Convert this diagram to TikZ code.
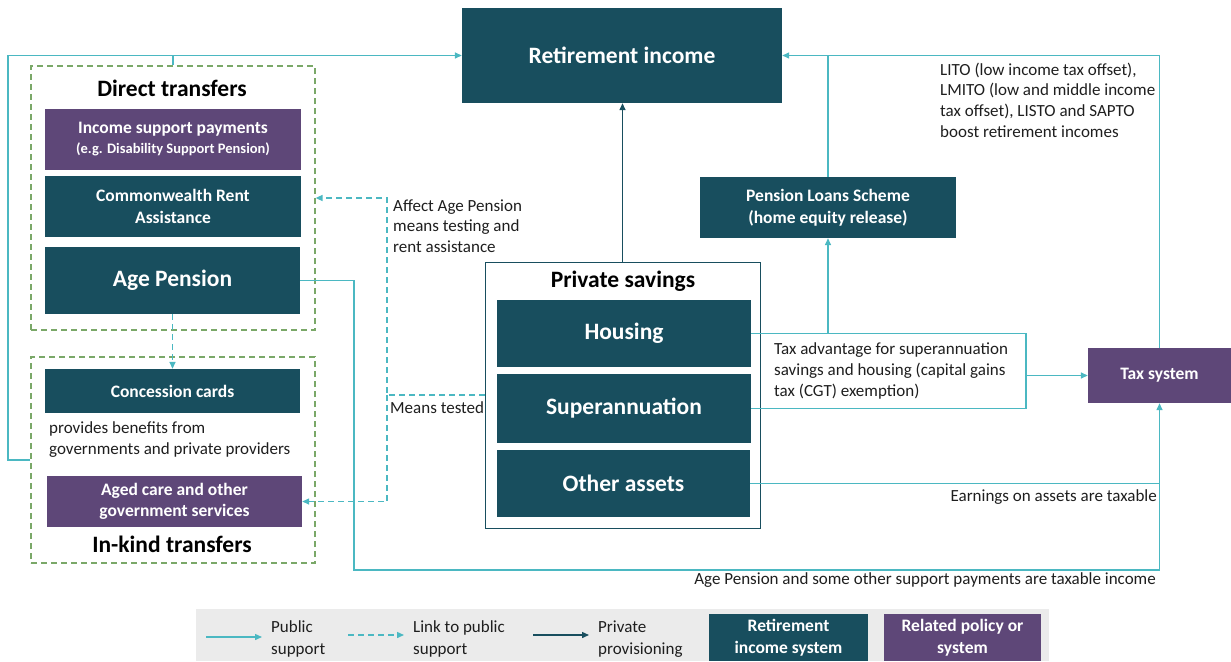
\documentclass[tikz,border=0pt]{standalone}
\usepackage{fontspec}
\setmainfont{Carlito}
\usetikzlibrary{arrows.meta}
\definecolor{rteal}{RGB}{24,78,94}
\definecolor{rpurple}{RGB}{94,71,120}
\definecolor{rcyan}{RGB}{75,184,194}
\definecolor{rgreen}{RGB}{122,168,104}
\definecolor{rgray}{RGB}{235,235,235}
\definecolor{rtext}{RGB}{30,30,30}
\newcommand{\rbigf}{\fontsize{23.5}{27}\selectfont\bfseries}
\newcommand{\rmedf}{\fontsize{17.5}{21.5}\selectfont\bfseries}
\newcommand{\rnotef}{\fontsize{17}{20.6}\selectfont}
\newcommand{\rlegf}{\fontsize{17}{22}\selectfont}
\tikzset{
  tbox/.style={fill=rteal, text=white, align=center, inner sep=0pt},
  pbox/.style={fill=rpurple, text=white, align=center, inner sep=0pt},
  grpbox/.style={draw=rgreen, line width=1.2pt, dash pattern=on 6pt off 4pt, inner sep=0pt},
  lbl/.style={text=rtext, align=left, inner sep=0pt, font=\rnotef},
  leglbl/.style={text=rtext, align=left, inner sep=0pt, font=\rlegf},
  tip/.style={-{Triangle[length=7pt,width=6pt]}},
  pub/.style={draw=rcyan, line width=1.4pt},
  link/.style={draw=rcyan, line width=1.4pt, dash pattern=on 6pt off 4pt},
  priv/.style={draw=rteal, line width=1.4pt},
}
\begin{document}
\begin{tikzpicture}[x=1pt,y=-1pt]
\useasboundingbox (0,0) rectangle (1231,661);

% group boxes
\node[grpbox, minimum width=284pt, minimum height=264pt] (dt) at (173,198) {};
\node[grpbox, minimum width=284pt, minimum height=206pt] (ik) at (173,460) {};
\node[draw=rteal, line width=1pt, fill=white, minimum width=275pt, minimum height=266pt, inner sep=0pt] (ps) at (622.5,395) {};

% main boxes
\node[tbox, minimum width=320pt, minimum height=95pt, font=\rbigf] (ret) at (622,55.5) {Retirement income};
\node[text=black, font=\rbigf, inner sep=0pt] (dtt) at (172,88) {Direct transfers};
\node[pbox, minimum width=256pt, minimum height=61pt, font=\fontsize{17.5}{20}\selectfont\bfseries] (inc) at (173,139.5) {Income support payments\\{\fontsize{14.5}{20}\selectfont\bfseries (e.g. Disability Support Pension)}};
\node[tbox, minimum width=256pt, minimum height=61pt, font=\rmedf] (cra) at (173,206.5) {Commonwealth Rent\\Assistance};
\node[tbox, minimum width=255pt, minimum height=67pt, font=\rbigf] (age) at (172.5,280.5) {Age Pension};
\node[tbox, minimum width=255pt, minimum height=44pt, font=\rmedf] (con) at (172.5,391) {Concession cards};
\node[lbl, anchor=west] (prov) at (49,439.5) {provides benefits from\\governments and private providers};
\node[pbox, minimum width=255pt, minimum height=51pt, font=\rmedf] (aged) at (174.5,501.5) {Aged care and other\\government services};
\node[text=black, font=\rbigf, inner sep=0pt] (ikt) at (172,544) {In-kind transfers};

\node[text=black, font=\rbigf, inner sep=0pt] (pst) at (623,281) {Private savings};
\node[tbox, minimum width=254pt, minimum height=67pt, font=\rbigf] (hou) at (624,333.5) {Housing};
\node[tbox, minimum width=254pt, minimum height=69pt, font=\rbigf] (sup) at (624,408.5) {Superannuation};
\node[tbox, minimum width=253pt, minimum height=67pt, font=\rbigf] (oth) at (623.5,483.5) {Other assets};

\node[tbox, minimum width=256pt, minimum height=61pt, font=\rmedf] (pls) at (828,207.5) {Pension Loans Scheme\\(home equity release)};
\node[pbox, minimum width=143pt, minimum height=55pt, font=\rmedf] (tax) at (1159.5,375.5) {Tax system};

% labels
\node[lbl, anchor=west] (aff) at (393,226) {Affect Age Pension\\means testing and\\rent assistance};
\node[lbl, anchor=west] (mtl) at (390,408) {Means tested};
\node[lbl, anchor=west] (lito) at (940,100) {LITO (low income tax offset),\\LMITO (low and middle income\\tax offset), LISTO and SAPTO\\boost retirement incomes};
\node[lbl, anchor=west] (tadv) at (774,371) {Tax advantage for superannuation\\savings and housing (capital gains\\tax (CGT) exemption)};
\node[lbl, anchor=east] (earn) at (1157,497) {Earnings on assets are taxable};
\node[lbl, anchor=east] (aptx) at (1156,580) {Age Pension and some other support payments are taxable income};

% helper coordinates
\coordinate (lx) at (8,460);
\coordinate (apc) at (354,570);
\coordinate (mt) at (387,395);
\coordinate (ta1) at (1026,333.5);
\coordinate (ta2) at (1026,408.5);
\coordinate (ta3) at (1026,375.5);

% connectors
\draw[pub, tip] (ik.west |- lx) -- (lx) |- (ret.west);
\draw[pub] (dt.north) -- (dt.north |- ret.west);
\draw[pub, tip] (age.east) -| (apc) -| (tax.south);
\draw[pub] (oth.east) -- (oth.east -| tax.south);
\draw[link, tip] (age.south) -- (con.north);
\draw[link, tip] (ps.west) -- (mt) |- (dt.east);
\draw[link, tip] (mt) |- (aged.east);
\draw[priv, tip] (ps.north) -- (ps.north |- ret.south);
\draw[pub, tip] (hou.east) -| (pls.south);
\draw[pub] (hou.east) -- (ta1) -- (ta2) -- (sup.east);
\draw[pub, tip] (ta3) -- (tax.west);
\draw[pub, tip] (pls.north) |- (ret.east);
\draw[pub] (tax.north) |- (pls.north |- ret.east);

% legend
\node[fill=rgray, minimum width=853pt, minimum height=52pt, inner sep=0pt] (leg) at (622.5,635) {};
\coordinate (l1a) at (206,637); \coordinate (l1b) at (262,637);
\coordinate (l2a) at (348,635); \coordinate (l2b) at (404,635);
\coordinate (l3a) at (533,635); \coordinate (l3b) at (589,635);
\draw[pub, tip] (l1a) -- (l1b);
\draw[link, tip] (l2a) -- (l2b);
\draw[priv, tip] (l3a) -- (l3b);
\node[leglbl, anchor=west] (lt1) at (271,639) {Public\\support};
\node[leglbl, anchor=west] (lt2) at (413,639) {Link to public\\support};
\node[leglbl, anchor=west] (lt3) at (598,639) {Private\\provisioning};
\node[tbox, minimum width=159pt, minimum height=47pt, font=\rmedf] (lris) at (788.5,637.5) {Retirement\\income system};
\node[pbox, minimum width=157pt, minimum height=47pt, font=\rmedf] (lrp) at (962.5,637.5) {Related policy or\\system};
\end{tikzpicture}
\end{document}
